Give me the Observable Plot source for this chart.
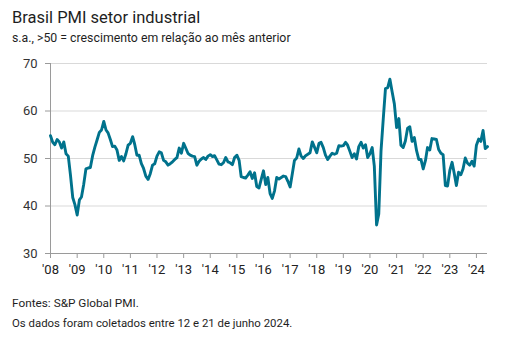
<!DOCTYPE html>
<html>
<head>
<meta charset="utf-8">
<script src="https://cdn.jsdelivr.net/npm/d3@7"></script>
<script src="https://cdn.jsdelivr.net/npm/@observablehq/plot@0.6"></script>
<style>
  body { margin: 0; background: #fff; }
  #wrap { position: relative; width: 517px; height: 340px; font-family: Roboto, "Open Sans", sans-serif; color: #222; }
  .t { position: absolute; left: 12px; white-space: nowrap; }
  #title { top: 8px; font-size: 16.5px; color: #1e1e1e; }
  #sub { top: 31px; font-size: 12.3px; color: #1e1e1e; }
  #chart { position: absolute; left: 0; top: 50px; }
  #f1 { top: 296px; font-size: 11.8px; color: #1e1e1e; }
  #f2 { top: 316px; font-size: 11.4px; color: #1e1e1e; }
</style>
</head>
<body>
<div id="wrap">
  <div class="t" id="title">Brasil PMI setor industrial</div>
  <div class="t" id="sub">s.a., &gt;50 = crescimento em relação ao mês anterior</div>
  <div id="chart"></div>
  <div class="t" id="f1">Fontes: S&amp;P Global PMI.</div>
  <div class="t" id="f2">Os dados foram coletados entre 12 e 21 de junho 2024.</div>
</div>
<script>
// Monthly PMI values, Jan–Dec of each year
const startYear = 2008;
const pmi2008 = [54.8, 53.4, 52.9, 54.0, 53.5, 52.2, 53.5, 51.0, 50.5, 46.5, 41.8, 40.3];
const pmi2009 = [38.1, 41.3, 41.9, 44.6, 47.8, 48.0, 48.1, 50.6, 52.4, 53.9, 55.5, 56.0];
const pmi2010 = [57.8, 56.0, 55.4, 54.0, 52.5, 52.6, 51.8, 49.6, 50.4, 49.5, 51.0, 52.8];
const pmi2011 = [53.2, 54.6, 53.0, 50.7, 50.7, 48.9, 47.9, 46.3, 45.6, 46.8, 48.6, 48.9];
const pmi2012 = [50.5, 51.4, 51.2, 49.6, 49.3, 48.6, 48.9, 49.3, 49.8, 50.2, 52.2, 51.1];
const pmi2013 = [53.2, 52.1, 51.1, 50.7, 50.5, 50.4, 48.6, 49.4, 49.9, 50.2, 49.8, 50.5];
const pmi2014 = [50.8, 50.4, 50.6, 49.7, 48.8, 48.7, 49.1, 50.2, 49.3, 49.1, 48.7, 50.2];
const pmi2015 = [50.7, 49.6, 46.2, 46.0, 45.9, 46.5, 47.2, 45.8, 47.0, 44.1, 43.8, 45.6];
const pmi2016 = [47.4, 44.5, 46.0, 42.6, 41.6, 43.2, 46.0, 45.7, 46.0, 46.3, 46.2, 45.2];
const pmi2017 = [44.0, 46.9, 49.6, 50.1, 52.0, 50.5, 50.0, 50.6, 50.9, 51.2, 53.5, 52.4];
const pmi2018 = [51.2, 53.2, 53.4, 52.3, 50.7, 49.8, 50.5, 51.1, 50.9, 51.1, 52.7, 52.6];
const pmi2019 = [52.7, 53.4, 52.8, 51.5, 50.2, 51.0, 49.9, 52.5, 53.4, 52.2, 52.9, 50.2];
const pmi2020 = [51.0, 52.3, 48.4, 36.0, 38.3, 51.6, 58.2, 64.7, 64.9, 66.7, 64.0, 61.5];
const pmi2021 = [56.5, 58.4, 52.8, 52.3, 53.7, 56.4, 56.7, 53.6, 54.4, 51.7, 49.8, 49.8];
const pmi2022 = [47.8, 49.6, 52.3, 51.8, 54.2, 54.1, 54.0, 51.9, 51.1, 50.8, 44.3, 44.2];
const pmi2023 = [47.5, 49.2, 47.0, 44.3, 47.1, 46.6, 47.8, 50.1, 49.0, 48.6, 49.4, 48.4];
const pmi2024 = [52.8, 54.1, 53.6, 55.9, 52.1, 52.5];

const yTicks = [30, 40, 50, 60, 70];
const xTickLabels = ["'08","'09","'10","'11","'12","'13","'14","'15","'16","'17","'18","'19","'20","'21","'22","'23","'24"];

const series = [pmi2008, pmi2009, pmi2010, pmi2011, pmi2012, pmi2013, pmi2014, pmi2015,
  pmi2016, pmi2017, pmi2018, pmi2019, pmi2020, pmi2021, pmi2022, pmi2023, pmi2024];
const data = [];
series.forEach((vals, i) => vals.forEach((v, m) => data.push({date: new Date(Date.UTC(startYear + i, m, 1)), value: v})));

const xTicks = xTickLabels.map((_, i) => new Date(Date.UTC(startYear + i, 0, 1)));
const xStart = data[0].date;
const xEnd = data[data.length - 1].date;

const chart = Plot.plot({
  width: 517,
  height: 240,
  marginTop: 13,
  marginBottom: 37,
  marginLeft: 50,
  marginRight: 30,
  style: {fontFamily: "Roboto, 'Open Sans', sans-serif", fontSize: "13px", color: "#333", background: "transparent"},
  x: {type: "utc", domain: [xStart, xEnd], label: null},
  y: {domain: [30, 70], label: null},
  marks: [
    Plot.gridY([40, 50, 60, 70], {stroke: "#d9d9d9", strokeOpacity: 1, strokeWidth: 1}),
    Plot.ruleY([30], {stroke: "#9a9a9a", strokeWidth: 1}),
    Plot.ruleX([xStart], {stroke: "#9a9a9a", strokeWidth: 1}),
    Plot.axisY({ticks: yTicks, tickSize: 5, tickPadding: 8, stroke: "#9a9a9a", fill: "#333", label: null}),
    Plot.axisX({ticks: xTicks, tickSize: 5, tickPadding: 6, stroke: "#9a9a9a", fill: "#222", label: null,
      tickFormat: (d, i) => xTickLabels[i]}),
    Plot.lineY(data, {x: "date", y: "value", stroke: "#00728c", strokeWidth: 2.9, strokeLinejoin: "round", curve: "linear"})
  ]
});
document.getElementById("chart").appendChild(chart);
</script>
</body>
</html>
